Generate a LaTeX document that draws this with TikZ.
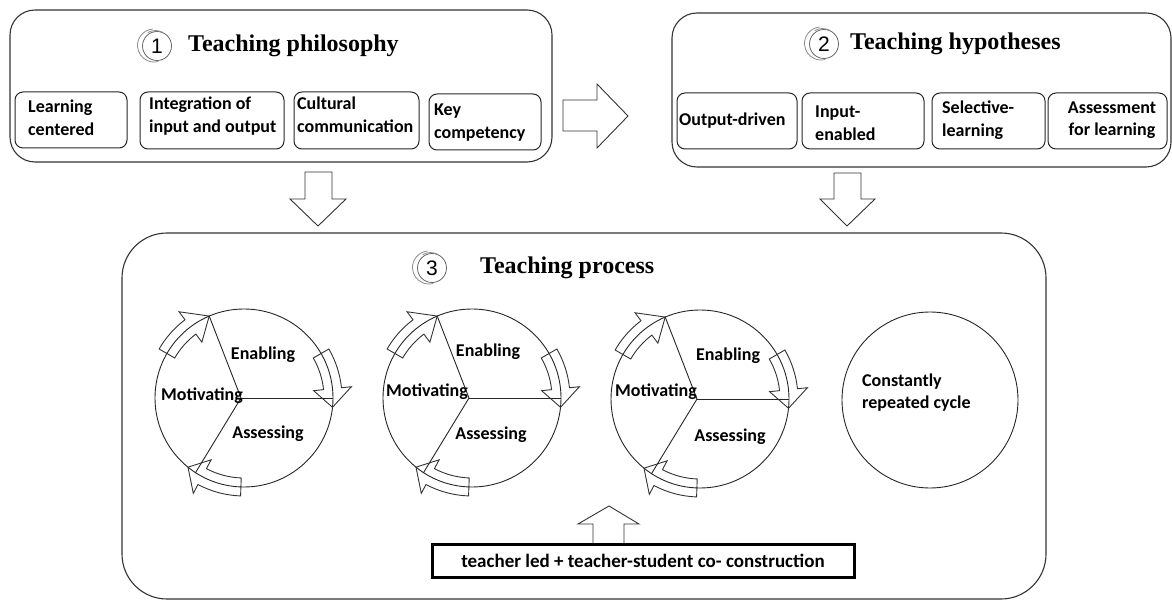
\documentclass[tikz,border=0pt]{standalone}
\usepackage{fontspec}
\setmainfont{Liberation Serif}
\newfontfamily\labfont{Carlito}
\newfontfamily\numfont{Liberation Sans}
\usetikzlibrary{calc}
\tikzset{
  bigbox/.style={draw=black!80, line width=1.1pt, inner sep=0pt},
  subbox/.style={draw=black!85, line width=1pt, rounded corners=8pt, inner sep=0pt},
  lbl/.style={font=\labfont\bfseries\fontsize{18}{22.5}\selectfont, align=left, inner sep=0pt, text=black},
  ttl/.style={font=\bfseries\fontsize{24}{28}\selectfont, inner sep=0pt, anchor=west},
  ring/.style={circle, draw=black!60, line width=0.8pt, minimum size=29pt, inner sep=0pt, font=\numfont\fontsize{21}{21}\selectfont},
  ghost/.style={draw=black!45, line width=0.8pt},
  blockarrow/.style={draw=black!80, line width=0.9pt, line join=miter},
  cyc/.style={circle, draw=black!85, line width=0.9pt, minimum size=178pt, inner sep=0pt},
  spoke/.style={draw=black!85, line width=0.9pt},
}
\newcommand{\cycarrow}[4]{%
  \draw[blockarrow] ($(#1)+(#2:80)$) arc[start angle=#2, end angle=#3, radius=80]
    -- ($(#1)+(#3:70)$) -- ($(#1)+(#4:89)$) -- ($(#1)+(#3:108)$) -- ($(#1)+(#3:98)$)
    arc[start angle=#3, end angle=#2, radius=98] -- cycle;}
\newcommand{\ringmark}[2]{%
  \draw[ghost] ($(#1)+(-3,0.5)$) ++(95:16.5) arc[start angle=95, end angle=285, radius=16.5];
  \draw[ghost] ($(#1)+(-1.5,0)$) ++(60:15.5) arc[start angle=60, end angle=120, radius=15.5];}
\begin{document}
\begin{tikzpicture}[x=1pt,y=1pt]
\useasboundingbox (0,0) rectangle (1172,-601);

% ---------- Box 1 ----------
\node[bigbox, rounded corners=25pt, minimum width=542pt, minimum height=152pt] (b1) at (281,-86) {};
\node[ring] (n1) at (157,-46) {1};
\ringmark{n1}{}
\node[ttl] (t1) at (188,-46) {Teaching philosophy};

\node[subbox, minimum width=112pt, minimum height=56pt] (s1) at (71,-120) {};
\node[subbox, minimum width=144pt, minimum height=57pt] (s2) at (212,-120.5) {};
\node[subbox, minimum width=125pt, minimum height=57pt] (s3) at (356.5,-120.5) {};
\node[subbox, minimum width=112pt, minimum height=56pt] (s4) at (485,-122) {};
\node[lbl, anchor=west] (l1) at (28,-118) {Learning\\centered};
\node[lbl, anchor=west] (l2) at (149,-116) {Integration of\\input and output};
\node[lbl, anchor=west] (l3) at (297,-115) {Cultural\\communication};
\node[lbl, anchor=west] (l4) at (434,-122.5) {Key\\competency};

% ---------- Box 2 ----------
\node[bigbox, rounded corners=25pt, minimum width=499pt, minimum height=154pt] (b2) at (921.5,-90) {};
\node[ring] (n2) at (824,-44) {2};
\ringmark{n2}{}
\node[ttl] (t2) at (850,-44) {Teaching hypotheses};

\node[subbox, minimum width=120pt, minimum height=56pt] (h1) at (737,-121) {};
\node[subbox, minimum width=122pt, minimum height=56pt] (h2) at (863,-121) {};
\node[subbox, minimum width=113pt, minimum height=56pt] (h3) at (988.5,-121) {};
\node[subbox, minimum width=119pt, minimum height=56pt] (h4) at (1107.5,-121) {};
\node[lbl, anchor=west] (m1) at (679,-121) {Output-driven};
\node[lbl, anchor=west] (m2) at (815,-123) {Input-\\enabled};
\node[lbl, anchor=west] (m3) at (942,-120) {Selective-\\learning};
\node[lbl, align=center] (m4) at (1112,-120) {Assessment\\for learning};

% ---------- Box 3 ----------
\node[bigbox, rounded corners=45pt, minimum width=924pt, minimum height=366pt] (b3) at (584,-416) {};
\node[ring] (n3) at (432,-268) {3};
\ringmark{n3}{}
\node[ttl] (t3) at (480,-268) {Teaching process};

% ---------- block arrows between boxes ----------
\draw[blockarrow] (563,-100) -- (597,-100) -- (597,-84) -- (628,-116) -- (597,-148) -- (597,-131) -- (563,-131) -- cycle;
\draw[blockarrow] (305,-172) -- (332,-172) -- (332,-199) -- (346,-199) -- (318,-226) -- (290,-199) -- (305,-199) -- cycle;
\draw[blockarrow] (834,-173) -- (861,-173) -- (861,-199) -- (875,-199) -- (847,-226) -- (820,-199) -- (834,-199) -- cycle;

% ---------- cycles ----------
\foreach \nm/\cx/\cy in {c1/244/-398, c2/472/-398, c3/700/-399}{
  \node[cyc] (\nm) at (\cx,\cy) {};
  \coordinate (\nm hub) at (\cx-3,\cy);
  \draw[spoke] (\nm hub) -- (\nm.113);
  \draw[spoke] (\nm hub) -- (\nm.0);
  \draw[spoke] (\nm hub) -- (\nm.237);
  \cycarrow{\nm}{150}{127}{113}
  \cycarrow{\nm}{30}{6}{-6}
  \cycarrow{\nm}{268}{242}{231}
}
\node[lbl] (e1) at ($(c1)+(19,43)$) {Enabling};
\node[lbl] (v1) at ($(c1)+(-42,2)$) {Motivating};
\node[lbl] (a1) at ($(c1)+(24,-36)$) {Assessing};
\node[lbl] (e2) at ($(c2)+(16,46)$) {Enabling};
\node[lbl] (v2) at ($(c2)+(-45,6)$) {Motivating};
\node[lbl] (a2) at ($(c2)+(19,-37)$) {Assessing};
\node[lbl] (e3) at ($(c3)+(28,43)$) {Enabling};
\node[lbl] (v3) at ($(c3)+(-44,7)$) {Motivating};
\node[lbl] (a3) at ($(c3)+(30,-38)$) {Assessing};

\node[cyc, minimum size=176pt] (c4) at (930,-400) {};
\node[lbl, anchor=west] (r4) at (862,-392.5) {Constantly\\repeated cycle};

% ---------- bottom box ----------
\node[draw=black, line width=3pt, minimum width=422pt, minimum height=33pt, inner sep=0pt,
      font=\labfont\bfseries\fontsize{19}{22}\selectfont] (bt) at (643,-560.5) {teacher led + teacher-student co- construction};
\draw[blockarrow] (593,-543) -- (593,-524) -- (578,-524) -- (609,-506) -- (639,-524) -- (624,-524) -- (624,-543);
\end{tikzpicture}
\end{document}
